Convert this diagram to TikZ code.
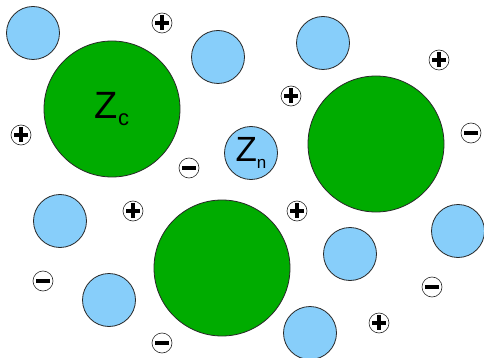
\documentclass[tikz,border=0pt]{standalone}
\usepackage{fontspec}
\setmainfont{Liberation Sans}
\usepackage{tikz}
\definecolor{colloid}{RGB}{0,172,0}
\definecolor{nano}{RGB}{135,206,250}
\definecolor{rim}{RGB}{40,40,40}

\begin{document}
\begin{tikzpicture}[
  x=1pt,y=-1pt,
  part/.style={circle,draw=rim,line width=0.8pt,inner sep=0pt},
  big/.style={part,fill=colloid,minimum size=136pt},
  small/.style={part,fill=nano,minimum size=53pt},
  ion/.style={part,fill=white,line width=0.6pt,minimum size=20pt},
  anion/.style={ion,path picture={
    \fill[black] (path picture bounding box.center) ++(-7pt,-1.6pt) rectangle ++(14pt,3.2pt);}},
  cation/.style={ion,path picture={
    \fill[black] (path picture bounding box.center) ++(-7pt,-1.6pt) rectangle ++(14pt,3.2pt);
    \fill[black] (path picture bounding box.center) ++(-1.6pt,-7pt) rectangle ++(3.2pt,15pt);}}]
\useasboundingbox (0,0) rectangle (484,358);
\clip (0,0) rectangle (484,358);
% colloids
\node[big] (zc) at (112,109) {\fontsize{38}{38}\selectfont Z\raisebox{-7pt}{\fontsize{22}{22}\selectfont c}};
\node[big] (c2) at (376,144) {};
\node[big] (c3) at (222,268) {};
% nanoparticles
\node[small] (zn) at (251,153) {\fontsize{35}{35}\selectfont Z\raisebox{-7pt}{\fontsize{17}{17}\selectfont n}};
\node[small] (n1) at (33,33) {};
\node[small] (n2) at (218,57) {};
\node[small] (n3) at (323,43) {};
\node[small] (n4) at (60,221) {};
\node[small] (n5) at (109,300) {};
\node[small] (n6) at (350,254) {};
\node[small] (n7) at (458,231) {};
\node[small] (n8) at (310,333) {};
% ions
\node[cation] (p1) at (162,23) {};
\node[cation] (p2) at (21,135) {};
\node[cation] (p3) at (291,96) {};
\node[cation] (p4) at (439,60) {};
\node[cation] (p5) at (133,211) {};
\node[cation] (p6) at (297,211) {};
\node[cation] (p7) at (379,323) {};
\node[anion] (m1) at (189,168) {};
\node[anion] (m2) at (471,133) {};
\node[anion] (m3) at (43,281) {};
\node[anion] (m4) at (162,343) {};
\node[anion] (m5) at (432,287) {};
\end{tikzpicture}
\end{document}
